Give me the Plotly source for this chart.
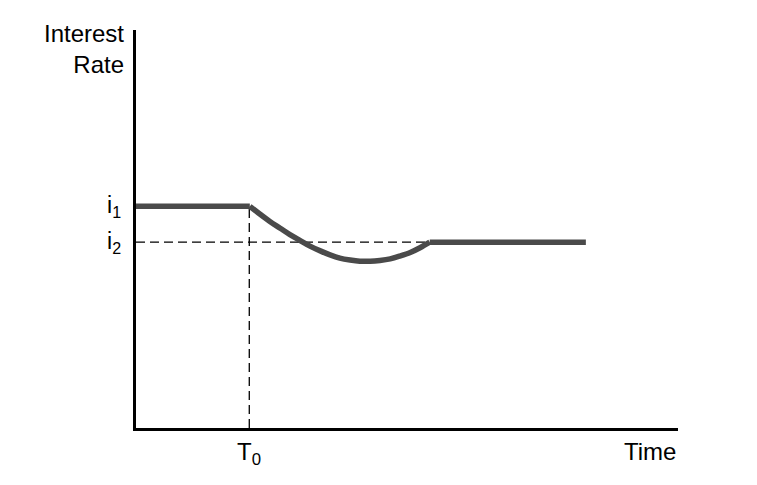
import plotly.graph_objects as go

# Data (abstract units: time 0-10, rate 0-10)
t0 = 2.09
i1 = 5.57
i2 = 4.67
flat1_t = [0.0, 2.10]
flat1_r = [5.57, 5.57]
curve_t = [2.10, 2.29, 2.47, 2.66, 2.84, 3.03, 3.21, 3.40, 3.58, 3.76, 3.95,
           4.13, 4.32, 4.50, 4.69, 4.87, 5.06, 5.24, 5.42]
curve_r = [5.57, 5.37, 5.19, 5.02, 4.86, 4.71, 4.57, 4.45, 4.35, 4.27, 4.22,
           4.19, 4.19, 4.21, 4.25, 4.32, 4.41, 4.53, 4.67]
flat2_t = [5.42, 8.30]
flat2_r = [4.67, 4.67]

line_color = "#4a4a4a"
dash_style = dict(color="black", width=1.3, dash="9px,5px")
fig = go.Figure()

# dashed guides
fig.add_trace(go.Scatter(x=[0, curve_t[-1]], y=[i2, i2], mode="lines",
                         line=dash_style, hoverinfo="skip"))
fig.add_trace(go.Scatter(x=[t0, t0], y=[0, i1], mode="lines",
                         line=dash_style, hoverinfo="skip"))

fig.add_trace(go.Scatter(x=flat1_t, y=flat1_r, mode="lines",
                         line=dict(color=line_color, width=5.5)))
fig.add_trace(go.Scatter(x=curve_t, y=curve_r, mode="lines",
                         line=dict(color=line_color, width=5.5, shape="spline", smoothing=1.0)))
fig.add_trace(go.Scatter(x=flat2_t, y=flat2_r, mode="lines",
                         line=dict(color=line_color, width=5.5)))

font = dict(family="Liberation Sans, Arial, Helvetica, sans-serif", color="black")

fig.update_layout(
    width=757, height=485,
    margin=dict(l=128, r=87, t=22, b=65),
    plot_bgcolor="white", paper_bgcolor="white",
    showlegend=False,
    xaxis=dict(range=[0, 10], showgrid=False, zeroline=False, showticklabels=False,
               showline=True, linecolor="black", linewidth=2.8, ticks=""),
    yaxis=dict(range=[0, 10], showgrid=False, zeroline=False, showticklabels=False,
               showline=True, linecolor="black", linewidth=2.8, ticks=""),
    annotations=[
        dict(text="Interest<br>Rate", xref="paper", yref="paper", x=0, y=1,
             xshift=-10, yshift=12,
             xanchor="right", yanchor="top", align="right", showarrow=False,
             font=dict(size=24, **font)),
        dict(text="i<sub>1</sub>", xref="paper", yref="y", x=0, y=i1, xshift=-13,
             xanchor="right", yanchor="middle", showarrow=False, font=dict(size=23, **font)),
        dict(text="i<sub>2</sub>", xref="paper", yref="y", x=0, y=i2, xshift=-13,
             xanchor="right", yanchor="middle", showarrow=False, font=dict(size=23, **font)),
        dict(text="T<sub>0</sub>", xref="x", yref="paper", x=t0, y=0, yshift=-8,
             xanchor="center", yanchor="top", showarrow=False, font=dict(size=24, **font)),
        dict(text="Time", xref="paper", yref="paper", x=1.0, y=0, yshift=-8,
             xanchor="right", yanchor="top", showarrow=False, font=dict(size=24, **font)),
    ],
)

fig.write_html("out.html")
